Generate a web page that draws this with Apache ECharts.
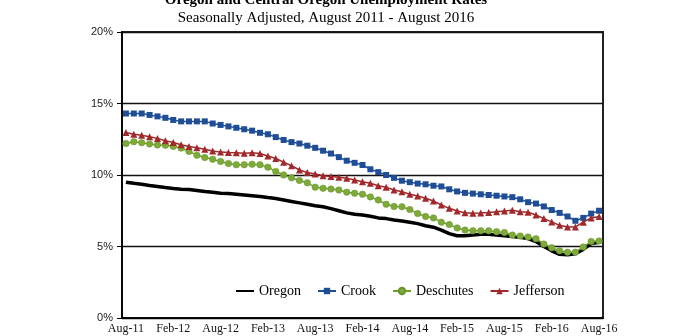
<!DOCTYPE html>
<html><head><meta charset="utf-8">
<script src="https://cdn.jsdelivr.net/npm/echarts@6/dist/echarts.min.js"></script>
<style>html,body{margin:0;padding:0;background:#fff}#c{width:700px;height:336px}</style>
</head><body><div id="c"></div>
<script>
const categories = [
 'Aug-11','Sep-11','Oct-11','Nov-11','Dec-11',
 'Jan-12','Feb-12','Mar-12','Apr-12','May-12','Jun-12','Jul-12','Aug-12','Sep-12','Oct-12','Nov-12','Dec-12',
 'Jan-13','Feb-13','Mar-13','Apr-13','May-13','Jun-13','Jul-13','Aug-13','Sep-13','Oct-13','Nov-13','Dec-13',
 'Jan-14','Feb-14','Mar-14','Apr-14','May-14','Jun-14','Jul-14','Aug-14','Sep-14','Oct-14','Nov-14','Dec-14',
 'Jan-15','Feb-15','Mar-15','Apr-15','May-15','Jun-15','Jul-15','Aug-15','Sep-15','Oct-15','Nov-15','Dec-15',
 'Jan-16','Feb-16','Mar-16','Apr-16','May-16','Jun-16','Jul-16','Aug-16'
];
const oregon = [
 9.5,9.42,9.35,9.27,9.2,9.12,9.05,9.0,8.98,8.92,
 8.85,8.8,8.72,8.7,8.65,8.6,8.55,8.5,8.42,8.35,
 8.25,8.15,8.05,7.95,7.85,7.78,7.65,7.5,7.35,7.25,
 7.2,7.12,7.0,6.95,6.85,6.78,6.7,6.6,6.45,6.35,
 6.15,5.9,5.75,5.75,5.8,5.85,5.85,5.8,5.75,5.7,
 5.65,5.55,5.35,5.0,4.7,4.45,4.42,4.5,4.8,5.2,5.3
];
const crook = [
 14.3,14.3,14.3,14.2,14.1,14.0,13.85,13.75,13.75,13.75,
 13.75,13.6,13.5,13.4,13.3,13.2,13.1,12.95,12.85,12.65,
 12.45,12.3,12.2,12.05,11.9,11.7,11.5,11.25,11.0,10.85,
 10.7,10.4,10.2,10.0,9.8,9.6,9.5,9.4,9.35,9.25,
 9.2,9.0,8.85,8.75,8.7,8.65,8.6,8.55,8.5,8.45,
 8.3,8.1,8.0,7.8,7.55,7.35,7.1,6.8,7.0,7.3,7.5
];
const deschutes = [
 12.2,12.33,12.26,12.17,12.1,12.08,12.0,11.88,11.65,11.38,
 11.22,11.1,10.95,10.8,10.72,10.72,10.75,10.72,10.55,10.25,
 10.0,9.8,9.62,9.45,9.15,9.07,9.02,8.95,8.8,8.72,
 8.65,8.47,8.25,7.95,7.8,7.78,7.58,7.3,7.1,7.0,
 6.7,6.53,6.3,6.15,6.1,6.1,6.1,6.04,5.98,5.8,
 5.73,5.66,5.55,5.17,4.92,4.7,4.6,4.6,4.97,5.35,5.38
];
const jefferson = [
 12.97,12.85,12.78,12.68,12.56,12.4,12.27,12.12,12.0,11.9,
 11.8,11.68,11.6,11.57,11.55,11.52,11.55,11.5,11.33,11.15,
 10.9,10.65,10.35,10.17,10.07,9.95,9.9,9.85,9.77,9.65,
 9.53,9.42,9.25,9.14,8.95,8.83,8.65,8.53,8.37,8.18,
 7.9,7.67,7.48,7.36,7.32,7.34,7.38,7.43,7.49,7.53,
 7.43,7.4,7.2,6.95,6.72,6.48,6.37,6.37,6.7,7.0,7.09
];
const titleText = 'Oregon and Central Oregon Unemployment Rates';
const subtitleText = 'Seasonally Adjusted, August 2011 - August 2016';

const chart = echarts.init(document.getElementById('c'), null, {renderer:'canvas'});
const serif = 'Liberation Serif';
chart.setOption({
  animation: false,
  backgroundColor: '#fff',
  title: [
    {text: titleText, left: 326, top: -8, padding: 0, textAlign: 'center',
     textStyle: {fontFamily: serif, fontWeight: 'bold', fontSize: 15, lineHeight: 17, color: '#000'}},
    {text: subtitleText, left: 326, top: 10, padding: 0, textAlign: 'center',
     textStyle: {fontFamily: serif, fontWeight: 'normal', fontSize: 15, lineHeight: 17, color: '#000'}}
  ],
  legend: {
    left: 235, top: 284, itemWidth: 18, itemHeight: 8, itemGap: 16, padding: 0,
    textStyle: {fontFamily: serif, fontSize: 14, color: '#000'},
    data: [{name: 'Oregon', itemStyle: {opacity: 0}}, 'Crook', 'Deschutes', 'Jefferson']
  },
  grid: {left: 122, right: 97, top: 32, bottom: 18, show: true, borderColor: '#222', borderWidth: 2},
  xAxis: {
    type: 'category', data: categories, boundaryGap: true,
    axisLine: {lineStyle: {color: '#000', width: 1.5}},
    axisTick: {interval: 1, length: 4, lineStyle: {color: '#000'}},
    axisLabel: {interval: 5, fontFamily: serif, fontSize: 12, color: '#111', margin: 5},
    splitLine: {show: false}
  },
  yAxis: {
    type: 'value', min: 0, max: 20, interval: 5,
    axisLine: {show: true, lineStyle: {color: '#000', width: 1.5}},
    axisTick: {show: true, length: 5, lineStyle: {color: '#000'}},
    axisLabel: {formatter: '{value}%', fontFamily: 'Liberation Sans', fontSize: 11, color: '#222', margin: 9},
    splitLine: {lineStyle: {color: '#111', width: 1.3}}
  },
  series: [
    {name: 'Oregon', type: 'line', data: oregon, symbol: 'none',
     lineStyle: {color: '#000', width: 3.5}, itemStyle: {color: '#000'}},
    {name: 'Crook', type: 'line', data: crook, symbol: 'rect', symbolSize: 6, showAllSymbol: true,
     lineStyle: {color: '#1F4E96', width: 1.5}, itemStyle: {color: '#1F4E96'}},
    {name: 'Deschutes', type: 'line', data: deschutes, symbol: 'circle', symbolSize: 6.5, showAllSymbol: true,
     lineStyle: {color: '#6E9B2E', width: 1.5}, itemStyle: {color: '#7DAA38', borderColor: '#6A9430', borderWidth: 0.5}},
    {name: 'Jefferson', type: 'line', data: jefferson, symbol: 'triangle', symbolSize: 7, showAllSymbol: true,
     lineStyle: {color: '#A1292B', width: 1.5}, itemStyle: {color: '#A1292B'}}
  ]
});
</script>
</body></html>
